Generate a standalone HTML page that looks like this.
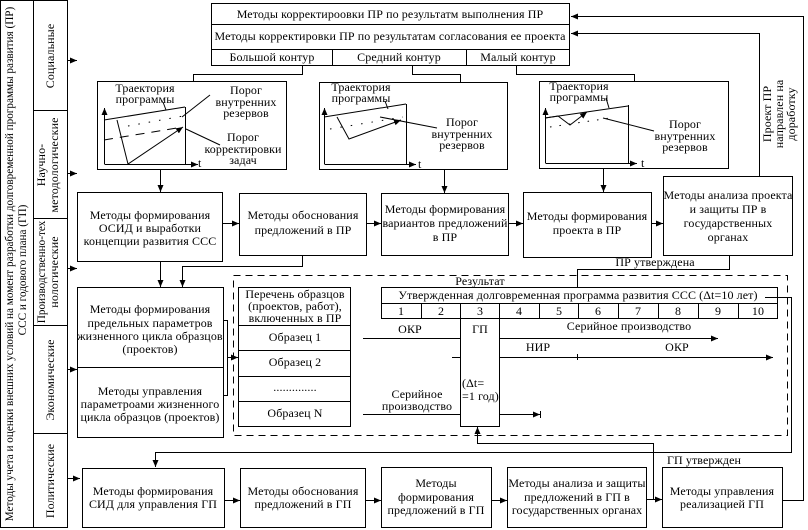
<!DOCTYPE html>
<html><head><meta charset="utf-8"><style>
html,body{margin:0;padding:0;background:#fff}
svg{display:block}
text{font-family:"Liberation Serif","DejaVu Serif",serif;font-size:12px;letter-spacing:0.1px;fill:#000}
.c{text-anchor:middle}
.s{font-size:11.2px;letter-spacing:0}
</style></head><body>
<svg width="808" height="530" viewBox="0 0 808 530" xmlns="http://www.w3.org/2000/svg">
<defs>
<marker id="a" markerWidth="8" markerHeight="8" refX="7" refY="4" orient="auto" markerUnits="userSpaceOnUse">
<path d="M0,1 L7,4 L0,7 z" fill="#000"/></marker>
</defs>
<g fill="none" stroke="#000" stroke-width="1">
<rect x="0.5" y="0.5" width="33" height="527"/>
<rect x="33.5" y="0.5" width="34" height="527"/>
<line x1="33" y1="110.5" x2="67" y2="110.5"/>
<line x1="33" y1="218.5" x2="67" y2="218.5"/>
<line x1="33" y1="325.5" x2="67" y2="325.5"/>
<line x1="33" y1="433.5" x2="67" y2="433.5"/>
<line x1="67" y1="60.5" x2="77" y2="60.5" marker-end="url(#a)"/>
<line x1="67" y1="173.5" x2="77" y2="173.5" marker-end="url(#a)"/>
<line x1="67" y1="268.5" x2="77" y2="268.5" marker-end="url(#a)"/>
<line x1="67" y1="369.5" x2="77" y2="369.5" marker-end="url(#a)"/>
<line x1="67" y1="478.5" x2="80" y2="478.5" marker-end="url(#a)"/>

<rect x="211.5" y="3.5" width="358" height="62"/>
<line x1="211" y1="24.5" x2="570" y2="24.5"/>
<line x1="211" y1="49.5" x2="570" y2="49.5"/>
<line x1="332.5" y1="49" x2="332.5" y2="65"/>
<line x1="466.5" y1="49" x2="466.5" y2="65"/>
<polyline points="302.5,65 302.5,74.5 193.5,74.5 193.5,81"/>
<polyline points="412.5,65 412.5,74.5 460.5,74.5 460.5,82"/>
<polyline points="516.5,65 516.5,74.5 634.5,74.5 634.5,81"/>

<rect x="97.5" y="81.5" width="189" height="88"/>
<line x1="104.5" y1="164" x2="104.5" y2="108" marker-end="url(#a)"/>
<line x1="104.5" y1="164.5" x2="198" y2="164.5" marker-end="url(#a)"/>
<line x1="185.5" y1="107" x2="185.5" y2="164"/>
<line x1="104" y1="120" x2="185" y2="107"/>
<line x1="128" y1="126" x2="183" y2="116" stroke-dasharray="1.5,9"/>
<line x1="104" y1="140" x2="183" y2="127" stroke-dasharray="9,7"/>
<polyline points="117,120 128,164 183,127" marker-end="url(#a)"/>
<line x1="163" y1="102" x2="166" y2="110"/>
<line x1="182" y1="117" x2="210" y2="95"/>
<line x1="186" y1="129" x2="220" y2="145"/>

<rect x="319.5" y="82.5" width="188" height="87"/>
<line x1="324.5" y1="164" x2="324.5" y2="108" marker-end="url(#a)"/>
<line x1="324.5" y1="164.5" x2="416" y2="164.5" marker-end="url(#a)"/>
<line x1="406.5" y1="104" x2="406.5" y2="164"/>
<line x1="324" y1="117" x2="406" y2="104"/>
<line x1="330" y1="129" x2="403" y2="117" stroke-dasharray="1.5,9"/>
<polyline points="337,117 349,139 401,120" marker-end="url(#a)"/>
<line x1="385" y1="101" x2="388" y2="109"/>
<line x1="380" y1="117" x2="437" y2="128"/>

<rect x="539.5" y="81.5" width="189" height="87"/>
<line x1="545.5" y1="163" x2="545.5" y2="108" marker-end="url(#a)"/>
<line x1="545.5" y1="163.5" x2="637" y2="163.5" marker-end="url(#a)"/>
<line x1="628.5" y1="105" x2="628.5" y2="163"/>
<line x1="545" y1="118" x2="628" y2="106"/>
<line x1="550" y1="127" x2="610" y2="118" stroke-dasharray="1.5,8"/>
<polyline points="545,118 558,116 570,125 587,112" marker-end="url(#a)"/>
<line x1="606" y1="98" x2="609" y2="108"/>
<line x1="603" y1="118" x2="654" y2="131"/>

<line x1="160.5" y1="170" x2="160.5" y2="192" marker-end="url(#a)"/>
<line x1="444.5" y1="170" x2="444.5" y2="193" marker-end="url(#a)"/>
<line x1="603.5" y1="169" x2="603.5" y2="192" marker-end="url(#a)"/>

<rect x="77.5" y="192.5" width="145" height="69"/>
<rect x="239.5" y="193.5" width="127" height="62"/>
<rect x="381.5" y="193.5" width="127" height="62"/>
<rect x="523.5" y="192.5" width="128" height="65"/>
<rect x="663.5" y="176.5" width="129" height="79"/>
<line x1="223" y1="223.5" x2="239" y2="223.5" marker-end="url(#a)"/>
<line x1="366" y1="223.5" x2="381" y2="223.5" marker-end="url(#a)"/>
<polyline points="508,223.5 512,223.5 523,223.5" marker-end="url(#a)"/>
<line x1="651" y1="223.5" x2="663" y2="223.5" marker-end="url(#a)"/>

<polyline points="759.5,176 759.5,33.5 571,33.5" marker-end="url(#a)"/>
<polyline points="782,500.5 803.5,500.5 803.5,16.5 571,16.5" marker-end="url(#a)"/>

<line x1="160.5" y1="262" x2="160.5" y2="287" marker-end="url(#a)"/>
<polyline points="302.5,255 302.5,266.5 182.5,266.5 182.5,287" marker-end="url(#a)"/>

<rect x="77.5" y="287.5" width="146" height="150"/>
<line x1="77" y1="367.5" x2="224" y2="367.5"/>
<polyline points="224,320.5 227.5,320.5 227.5,395.5 224,395.5"/>
<line x1="227" y1="357.5" x2="238" y2="357.5" marker-end="url(#a)"/>

<rect x="233.5" y="275.5" width="554" height="160" stroke-dasharray="7,5"/>

<rect x="238.5" y="287.5" width="112" height="139"/>
<line x1="238" y1="325.5" x2="351" y2="325.5"/>
<line x1="238" y1="350.5" x2="351" y2="350.5"/>
<line x1="238" y1="376.5" x2="351" y2="376.5"/>
<line x1="238" y1="401.5" x2="351" y2="401.5"/>

<rect x="381.5" y="287.5" width="396" height="31"/>
<line x1="381" y1="303.5" x2="778" y2="303.5"/>
<line x1="421.5" y1="303" x2="421.5" y2="319"/>
<line x1="460.5" y1="303" x2="460.5" y2="319"/>
<line x1="499.5" y1="303" x2="499.5" y2="319"/>
<line x1="539.5" y1="303" x2="539.5" y2="319"/>
<line x1="578.5" y1="303" x2="578.5" y2="319"/>
<line x1="618.5" y1="303" x2="618.5" y2="319"/>
<line x1="658.5" y1="303" x2="658.5" y2="319"/>
<line x1="698.5" y1="303" x2="698.5" y2="319"/>
<line x1="738.5" y1="303" x2="738.5" y2="319"/>
<rect x="460.5" y="318.5" width="39" height="108"/>
<polyline points="729.5,255 729.5,269.5 577.5,269.5 577.5,287"/>
<polyline points="765,297.5 791.5,297.5 791.5,452.5 155.5,452.5 155.5,467" marker-end="url(#a)"/>

<line x1="363" y1="338.5" x2="460" y2="338.5"/>
<line x1="499" y1="338.5" x2="718" y2="338.5" marker-end="url(#a)"/>
<line x1="452" y1="357.5" x2="460" y2="357.5"/>
<line x1="499" y1="357.5" x2="773" y2="357.5" marker-end="url(#a)"/>
<line x1="577.5" y1="354" x2="577.5" y2="360"/>
<line x1="363" y1="414.5" x2="460" y2="414.5"/>
<line x1="499" y1="414.5" x2="540" y2="414.5" marker-end="url(#a)"/>
<line x1="540.5" y1="411" x2="540.5" y2="418"/>
<polyline points="653.5,499 653.5,443.5 477.5,443.5 477.5,427" marker-end="url(#a)"/>

<rect x="82.5" y="468.5" width="142" height="59"/>
<rect x="240.5" y="468.5" width="125" height="59"/>
<rect x="381.5" y="467.5" width="110" height="60"/>
<rect x="507.5" y="467.5" width="139" height="60"/>
<rect x="662.5" y="467.5" width="120" height="60"/>
<line x1="225" y1="500.5" x2="240" y2="500.5" marker-end="url(#a)"/>
<line x1="366" y1="500.5" x2="381" y2="500.5" marker-end="url(#a)"/>
<line x1="492" y1="500.5" x2="507" y2="500.5" marker-end="url(#a)"/>
<line x1="647" y1="499.5" x2="662" y2="499.5" marker-end="url(#a)"/>
</g>

<text transform="translate(13,264) rotate(-90)" class="c s">Методы учета и оценки внешних условий на момент разработки долговременной программы развития (ПР)</text>
<text transform="translate(26,270) rotate(-90)" class="c s">ССС и годового плана (ГП)</text>
<text transform="translate(54,56) rotate(-90)" class="c">Социальные</text>
<text transform="translate(45,165) rotate(-90)" class="c">Научно-</text>
<text transform="translate(58,165) rotate(-90)" class="c">методологические</text>
<text transform="translate(45,272) rotate(-90)" class="c s">Производственно-тех</text>
<text transform="translate(58,272) rotate(-90)" class="c">нологические</text>
<text transform="translate(54,380) rotate(-90)" class="c">Экономические</text>
<text transform="translate(54,481) rotate(-90)" class="c">Политические</text>

<text x="390" y="18" class="c">Методы корректироовки ПР по результатм выполнения ПР</text>
<text x="390" y="40" class="c">Методы корректировки ПР по результатам согласования ее проекта</text>
<text x="272" y="61" class="c">Большой контур</text>
<text x="399" y="61" class="c">Средний контур</text>
<text x="518" y="61" class="c">Малый контур</text>

<text x="145" y="92" class="c">Траектория</text>
<text x="145" y="103" class="c">программы</text>
<text x="246" y="94" class="c">Порог</text>
<text x="246" y="106" class="c">внутренних</text>
<text x="246" y="117" class="c">резервов</text>
<text x="243" y="141" class="c">Порог</text>
<text x="243" y="153" class="c">корректировки</text>
<text x="243" y="164" class="c">задач</text>
<text x="198" y="167">t</text>
<text x="361" y="91" class="c">Траектория</text>
<text x="361" y="102" class="c">программы</text>
<text x="462" y="126" class="c">Порог</text>
<text x="462" y="138" class="c">внутренних</text>
<text x="462" y="149" class="c">резервов</text>
<text x="418" y="168">t</text>
<text x="579" y="90" class="c">Траектория</text>
<text x="579" y="101" class="c">программы</text>
<text x="685" y="128" class="c">Порог</text>
<text x="685" y="140" class="c">внутренних</text>
<text x="685" y="151" class="c">резервов</text>
<text x="641" y="167">t</text>

<text x="150" y="219" class="c">Методы формирования</text>
<text x="150" y="232" class="c">ОСИД и выработки</text>
<text x="150" y="245" class="c">концепции развития ССС</text>
<text x="303" y="219" class="c">Методы обоснования</text>
<text x="303" y="234" class="c">предложений в ПР</text>
<text x="445" y="213" class="c">Методы формирования</text>
<text x="445" y="227" class="c">вариантов предложений</text>
<text x="445" y="241" class="c">в ПР</text>
<text x="587" y="220" class="c">Методы формирования</text>
<text x="587" y="234" class="c">проекта в ПР</text>
<text x="728" y="199" class="c">Методы анализа проекта</text>
<text x="728" y="213" class="c">и защиты ПР в</text>
<text x="728" y="227" class="c">государственных</text>
<text x="728" y="241" class="c">органах</text>
<text x="655" y="266" class="c">ПР утверждена</text>
<text transform="translate(771,114) rotate(-90)" class="c">Проект ПР</text>
<text transform="translate(783,114) rotate(-90)" class="c">направлен на</text>
<text transform="translate(795,114) rotate(-90)" class="c">доработку</text>

<text x="150" y="313" class="c">Методы формирования</text>
<text x="150" y="327" class="c">предельных параметров</text>
<text x="150" y="340" class="c">жизненного цикла образцов</text>
<text x="150" y="353" class="c">(проектов)</text>
<text x="150" y="395" class="c">Методы управления</text>
<text x="150" y="408" class="c">параметроами жизненного</text>
<text x="150" y="421" class="c">цикла образцов (проектов)</text>

<text x="295" y="298" class="c">Перечень образцов</text>
<text x="295" y="310" class="c">(проектов, работ),</text>
<text x="295" y="322" class="c">включенных в ПР</text>
<text x="295" y="341" class="c">Образец 1</text>
<text x="295" y="366" class="c">Образец 2</text>
<text x="295" y="391" class="c">..............</text>
<text x="295" y="417" class="c">Образец N</text>

<text x="480" y="285" class="c">Результат</text>
<text x="578" y="299" class="c">Утвержденная долговременная программа развития ССС (Δt=10 лет)</text>
<text x="401" y="315" class="c">1</text>
<text x="441" y="315" class="c">2</text>
<text x="480" y="315" class="c">3</text>
<text x="519" y="315" class="c">4</text>
<text x="559" y="315" class="c">5</text>
<text x="598" y="315" class="c">6</text>
<text x="638" y="315" class="c">7</text>
<text x="678" y="315" class="c">8</text>
<text x="718" y="315" class="c">9</text>
<text x="758" y="315" class="c">10</text>
<text x="410" y="333" class="c">ОКР</text>
<text x="480" y="333" class="c">ГП</text>
<text x="629" y="330" class="c">Серийное производство</text>
<text x="538" y="351" class="c">НИР</text>
<text x="677" y="351" class="c">ОКР</text>
<text x="462" y="387">(Δt=</text>
<text x="462" y="400">=1 год)</text>
<text x="417" y="398" class="c">Серийное</text>
<text x="417" y="410" class="c">производство</text>

<text x="153" y="495" class="c">Методы формирования</text>
<text x="153" y="508" class="c">СИД для управления ГП</text>
<text x="303" y="495" class="c">Методы обоснования</text>
<text x="303" y="508" class="c">предложений в ГП</text>
<text x="436" y="487" class="c">Методы</text>
<text x="436" y="501" class="c">формирования</text>
<text x="436" y="514" class="c">предложений в ГП</text>
<text x="577" y="487" class="c">Методы анализа и защиты</text>
<text x="577" y="501" class="c">предложений в ГП в</text>
<text x="577" y="514" class="c" style="letter-spacing:0">государственных органах</text>
<text x="722" y="495" class="c">Методы управления</text>
<text x="722" y="508" class="c">реализацией ГП</text>
<text x="704" y="464" class="c">ГП утвержден</text>
</svg>
</body></html>
